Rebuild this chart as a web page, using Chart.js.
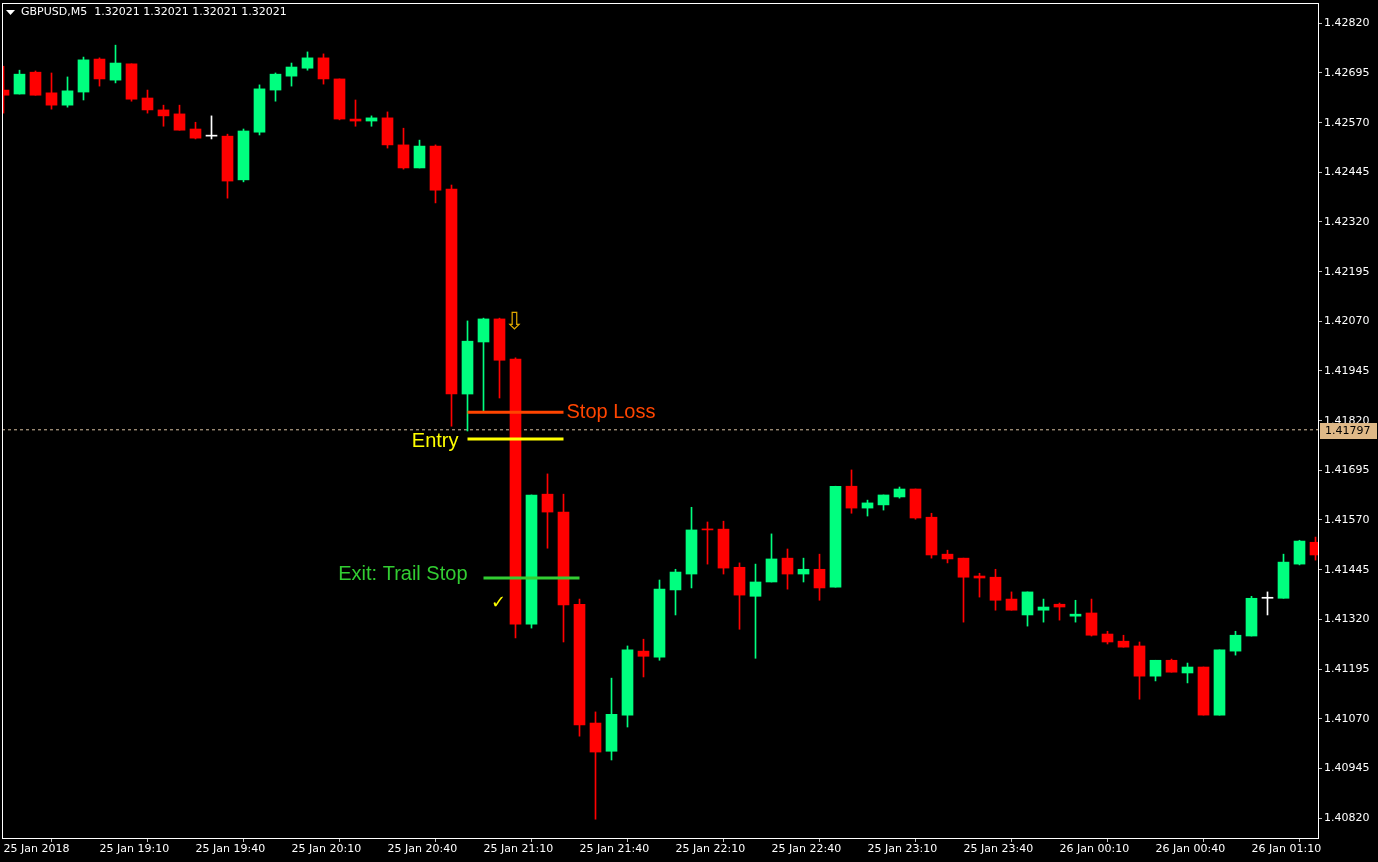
<!DOCTYPE html>
<html>
<head>
<meta charset="utf-8">
<title>GBPUSD M5</title>
<script src="https://cdn.jsdelivr.net/npm/chart.js@4.4.1/dist/chart.umd.min.js"></script>
<style>
  html, body { margin: 0; padding: 0; background: #000; }
  #wrap { width: 1378px; height: 862px; position: relative; }
</style>
</head>
<body>
<div id="wrap"><canvas id="chart"></canvas></div>
<script>
// M5 bars, 25 Jan 18:40 .. 26 Jan 01:30 (index 0..82)
const opens = [
  1.42652, 1.42642, 1.42697, 1.42645, 1.42614, 1.42647, 1.42730, 1.42677, 1.42718, 1.42632,
  1.42602, 1.42592, 1.42554, 1.42536, 1.42536, 1.42426, 1.42546, 1.42652, 1.42687, 1.42707,
  1.42733, 1.42680, 1.42579, 1.42574, 1.42582, 1.42514, 1.42456, 1.42511, 1.42403, 1.41887,
  1.42018, 1.42076, 1.41975, 1.41308, 1.41635, 1.41590, 1.41358, 1.41059, 1.40988, 1.41079,
  1.41240, 1.41225, 1.41394, 1.41434, 1.41547, 1.41547, 1.41451, 1.41378, 1.41414, 1.41474,
  1.41434, 1.41446, 1.41401, 1.41655, 1.41600, 1.41608, 1.41628, 1.41648, 1.41577, 1.41484,
  1.41474, 1.41429, 1.41426, 1.41371, 1.41331, 1.41343, 1.41358, 1.41328, 1.41336, 1.41283,
  1.41265, 1.41253, 1.41177, 1.41217, 1.41185, 1.41200, 1.41079, 1.41240, 1.41278, 1.41373,
  1.41373, 1.41459, 1.41514
];
const highs = [
  1.42712, 1.42702, 1.42700, 1.42695, 1.42685, 1.42735, 1.42733, 1.42765, 1.42718, 1.42652,
  1.42614, 1.42614, 1.42571, 1.42587, 1.42541, 1.42554, 1.42665, 1.42695, 1.42720, 1.42748,
  1.42743, 1.42680, 1.42627, 1.42587, 1.42597, 1.42556, 1.42526, 1.42514, 1.42413, 1.42071,
  1.42078, 1.42078, 1.41978, 1.41633, 1.41686, 1.41635, 1.41371, 1.41087, 1.41172, 1.41253,
  1.41270, 1.41419, 1.41446, 1.41602, 1.41565, 1.41567, 1.41462, 1.41459, 1.41535, 1.41497,
  1.41474, 1.41484, 1.41655, 1.41696, 1.41620, 1.41633, 1.41653, 1.41648, 1.41587, 1.41494,
  1.41474, 1.41436, 1.41446, 1.41389, 1.41389, 1.41371, 1.41361, 1.41368, 1.41371, 1.41290,
  1.41280, 1.41263, 1.41217, 1.41220, 1.41210, 1.41200, 1.41243, 1.41290, 1.41378, 1.41389,
  1.41484, 1.41519, 1.41527
];
const lows = [
  1.42594, 1.42642, 1.42639, 1.42604, 1.42609, 1.42627, 1.42662, 1.42670, 1.42624, 1.42594,
  1.42561, 1.42551, 1.42529, 1.42529, 1.42380, 1.42421, 1.42539, 1.42624, 1.42662, 1.42702,
  1.42667, 1.42577, 1.42561, 1.42561, 1.42506, 1.42453, 1.42456, 1.42368, 1.41806, 1.41794,
  1.41844, 1.41877, 1.41273, 1.41298, 1.41499, 1.41263, 1.41026, 1.40817, 1.40966, 1.41049,
  1.41175, 1.41217, 1.41331, 1.41399, 1.41459, 1.41434, 1.41295, 1.41222, 1.41414, 1.41396,
  1.41414, 1.41368, 1.41401, 1.41587, 1.41580, 1.41595, 1.41625, 1.41572, 1.41474, 1.41462,
  1.41313, 1.41376, 1.41343, 1.41343, 1.41303, 1.41313, 1.41318, 1.41313, 1.41278, 1.41258,
  1.41250, 1.41119, 1.41165, 1.41187, 1.41160, 1.41079, 1.41079, 1.41230, 1.41278, 1.41331,
  1.41373, 1.41457, 1.41469
];
const closes = [
  1.42639, 1.42692, 1.42639, 1.42614, 1.42650, 1.42728, 1.42680, 1.42720, 1.42629, 1.42602,
  1.42587, 1.42551, 1.42531, 1.42536, 1.42423, 1.42549, 1.42655, 1.42692, 1.42710, 1.42733,
  1.42680, 1.42579, 1.42574, 1.42582, 1.42514, 1.42456, 1.42511, 1.42400, 1.41887, 1.42020,
  1.42076, 1.41972, 1.41308, 1.41633, 1.41590, 1.41356, 1.41054, 1.40986, 1.41081, 1.41243,
  1.41227, 1.41396, 1.41439, 1.41545, 1.41545, 1.41449, 1.41381, 1.41414, 1.41472, 1.41434,
  1.41446, 1.41399, 1.41655, 1.41600, 1.41613, 1.41633, 1.41648, 1.41575, 1.41482, 1.41472,
  1.41426, 1.41424, 1.41368, 1.41343, 1.41389, 1.41351, 1.41351, 1.41333, 1.41280, 1.41263,
  1.41250, 1.41177, 1.41217, 1.41187, 1.41200, 1.41079, 1.41243, 1.41280, 1.41373, 1.41373,
  1.41464, 1.41517, 1.41482
];

const timeLabels = [
  "25 Jan 2018", "25 Jan 19:10", "25 Jan 19:40", "25 Jan 20:10", "25 Jan 20:40",
  "25 Jan 21:10", "25 Jan 21:40", "25 Jan 22:10", "25 Jan 22:40", "25 Jan 23:10",
  "25 Jan 23:40", "26 Jan 00:10", "26 Jan 00:40", "26 Jan 01:10"
];
const barsPerLabel = 6;

const priceTicks = [
  1.42820, 1.42695, 1.42570, 1.42445, 1.42320, 1.42195, 1.42070,
  1.41945, 1.41820, 1.41695, 1.41570, 1.41445, 1.41320, 1.41195,
  1.41070, 1.40945, 1.40820
];

const titleText = "GBPUSD,M5  1.32021 1.32021 1.32021 1.32021";
const currentPrice = 1.41797;

// trade levels: [price, from bar, to bar]
const stopLoss = [1.41841, 29, 35];
const entry = [1.41774, 29, 35];
const exitTrail = [1.41424, 30, 36];
const sellArrow = [32, 1.42066];
const exitMark = [31, 1.41361];

const BULL = "#00ff7f";
const BEAR = "#ff0000";
const DOJI = "#ffffff";

const colors = opens.map((o, i) => closes[i] > o ? BULL : (closes[i] < o ? BEAR : DOJI));
const wickData = opens.map((o, i) => ({ x: i, y: [lows[i], highs[i]] }));
const bodyData = opens.map((o, i) => ({ x: i, y: [Math.min(o, closes[i]), Math.max(o, closes[i])] }));

const xMin = -0.09375, xMax = 82.15625;

function level(l) {
  return [{ x: l[1], y: l[0] }, { x: l[2], y: l[0] }];
}

const overlay = {
  id: "overlay",
  afterDatasetsDraw(chart) {
    const ctx = chart.ctx, x = chart.scales.x, y = chart.scales.y;
    ctx.save();
    ctx.font = "20px 'Liberation Sans', Arial, sans-serif";
    ctx.textBaseline = "alphabetic";
    ctx.fillStyle = "#ff4500";
    ctx.textAlign = "left";
    ctx.fillText("Stop Loss", x.getPixelForValue(stopLoss[2]) + 3, y.getPixelForValue(stopLoss[0]) + 6);
    ctx.fillStyle = "#ffff00";
    ctx.textAlign = "right";
    ctx.fillText("Entry", x.getPixelForValue(entry[1]) - 9, y.getPixelForValue(entry[0]) + 8);
    ctx.fillStyle = "#32cd32";
    ctx.fillText("Exit: Trail Stop", x.getPixelForValue(exitTrail[1]) - 16, y.getPixelForValue(exitTrail[0]) + 2);

    ctx.font = "24px 'DejaVu Sans'";
    ctx.textAlign = "center";
    ctx.textBaseline = "middle";
    ctx.fillStyle = "#e0a800";
    ctx.fillText("\u21E9", x.getPixelForValue(sellArrow[0]) - 1, y.getPixelForValue(sellArrow[1]));
    ctx.font = "18px 'DejaVu Sans'";
    ctx.fillStyle = "#ffff00";
    ctx.fillText("\u2713", x.getPixelForValue(exitMark[0]) - 1, y.getPixelForValue(exitMark[1]));
    ctx.restore();
  },
  afterDraw(chart) {
    const ctx = chart.ctx, a = chart.chartArea, y = chart.scales.y;
    ctx.save();
    // frame
    ctx.strokeStyle = "#ffffff";
    ctx.lineWidth = 1;
    ctx.strokeRect(a.left + 0.5, a.top + 0.5, a.right - a.left, a.bottom - a.top);
    // title
    ctx.fillStyle = "#ffffff";
    ctx.beginPath();
    ctx.moveTo(a.left + 4, a.top + 7);
    ctx.lineTo(a.left + 13, a.top + 7);
    ctx.lineTo(a.left + 8.5, a.top + 12);
    ctx.closePath();
    ctx.fill();
    ctx.font = "11px 'DejaVu Sans'";
    ctx.textAlign = "left";
    ctx.textBaseline = "middle";
    ctx.fillText(titleText, a.left + 19, a.top + 9);
    // current price box
    const py = Math.round(y.getPixelForValue(currentPrice));
    ctx.fillStyle = "#deb887";
    ctx.fillRect(a.right + 2, py - 7, 57, 16);
    ctx.fillStyle = "#000000";
    ctx.fillText(currentPrice.toFixed(5), a.right + 7, py + 1);
    ctx.restore();
  }
};

Chart.defaults.font.family = "'DejaVu Sans', sans-serif";

new Chart(document.getElementById("chart"), {
  type: "bar",
  data: {
    datasets: [
      {
        type: "line", label: "Stop Loss", data: level(stopLoss), order: 0,
        borderColor: "#ff4500", borderWidth: 3, pointRadius: 0
      },
      {
        type: "line", label: "Entry", data: level(entry), order: 0,
        borderColor: "#ffff00", borderWidth: 3, pointRadius: 0
      },
      {
        type: "line", label: "Exit", data: level(exitTrail), order: 0,
        borderColor: "#32cd32", borderWidth: 3, pointRadius: 0
      },
      {
        label: "bodies", data: bodyData, order: 1, grouped: false,
        backgroundColor: colors, barThickness: 11, minBarLength: 1, borderWidth: 0
      },
      {
        label: "wicks", data: wickData, order: 2, grouped: false,
        backgroundColor: colors, barThickness: 1, borderWidth: 0
      },
      {
        type: "line", label: "Bid", order: 3,
        data: [{ x: xMin, y: currentPrice }, { x: xMax, y: currentPrice }],
        borderColor: "#d8c0a0", borderWidth: 1, borderDash: [3, 3], pointRadius: 0
      }
    ]
  },
  options: {
    responsive: true,
    maintainAspectRatio: false,
    animation: false,
    layout: { padding: { left: 2, top: 3, right: 0, bottom: 0 } },
    plugins: { legend: { display: false }, tooltip: { enabled: false } },
    scales: {
      x: {
        type: "linear", min: xMin, max: xMax, offset: false,
        border: { display: false },
        grid: { drawOnChartArea: false, tickLength: 4, color: "#c0c0c0" },
        ticks: {
          align: "start", color: "#ffffff", padding: 1, maxRotation: 0, autoSkip: false,
          font: { size: 11 },
          callback: v => timeLabels[Math.round(v / barsPerLabel)]
        },
        afterBuildTicks: s => { s.ticks = timeLabels.map((t, i) => ({ value: i * barsPerLabel })); },
        afterFit: s => { s.height = 24; s.paddingLeft = 0; s.paddingRight = 0; }
      },
      y: {
        position: "right", min: 1.407697, max: 1.428711,
        border: { display: false },
        grid: { drawOnChartArea: false, tickLength: 4, color: "#c0c0c0" },
        ticks: {
          color: "#ffffff", padding: 2, font: { size: 11 },
          callback: v => v.toFixed(5)
        },
        afterBuildTicks: s => { s.ticks = priceTicks.map(v => ({ value: v })); },
        afterFit: s => { s.width = 60; s.paddingTop = 0; s.paddingBottom = 0; }
      }
    }
  },
  plugins: [overlay]
});
</script>
</body>
</html>
